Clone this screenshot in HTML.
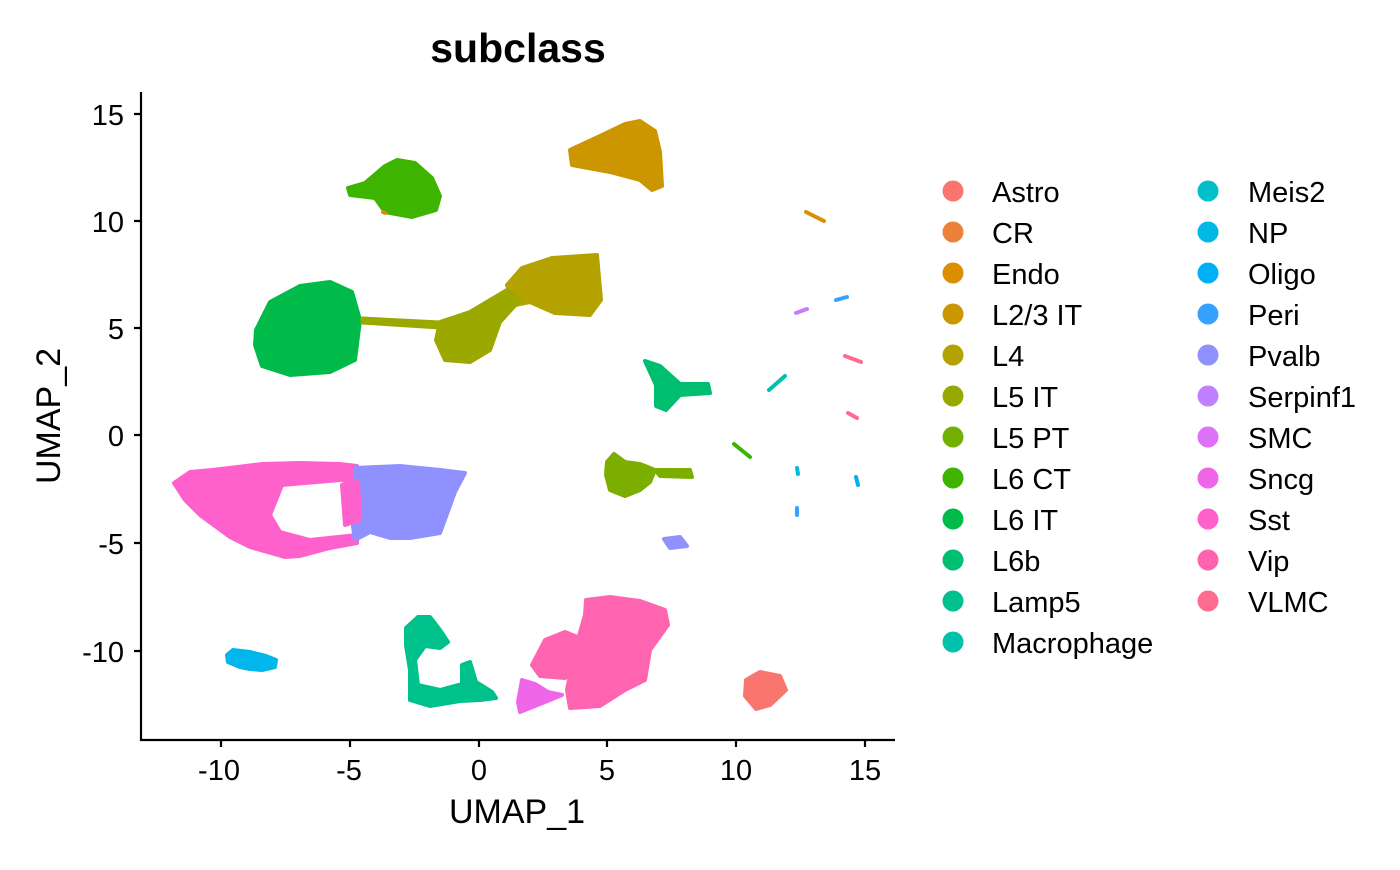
<!DOCTYPE html>
<html><head><meta charset="utf-8"><style>
body{margin:0;background:#fff}
svg text{font-family:"Liberation Sans",sans-serif}
</style></head><body>
<svg width="1400" height="865" viewBox="0 0 1400 865" xmlns="http://www.w3.org/2000/svg">
<rect width="1400" height="865" fill="#fff"/>
<text x="518" y="62" font-size="41" font-weight="bold" text-anchor="middle">subclass</text>
<g stroke-linejoin="round" stroke-width="4">
<path fill="#FF61CC" stroke="#FF61CC" fill-rule="evenodd" d="M174,483 L190,472 L212,470 L262,464 L300,463 L340,464 L357,466 L357,543 L330,548 L300,556 L285,557 L250,547 L230,537 L200,515 L185,500 Z M282,485 L340,480 L357,482 L357,535 L310,540 L280,532 L270,515 Z"/>
<path fill="#8F91FF" stroke="#8F91FF" d="M355,468 L400,466 L440,470 L465,473 L455,492 L440,533 L410,538 L390,538 L370,532 L355,540 L352,520 L362,505 L355,490 Z"/>
<path fill="#FF61CC" stroke="#FF61CC" d="M342,485 L358,482 L360,520 L345,525 Z"/>
<path fill="#8F91FF" stroke="#8F91FF" d="M664,539 L680,537 L687,546 L670,548 Z"/>
<path fill="#00C08B" stroke="#00C08B" d="M406,628 L418,617 L430,617 L440,630 L448,642 L440,648 L425,646 L415,660 L418,685 L440,690 L462,684 L462,665 L470,662 L476,682 L492,692 L496,698 L480,700 L460,701 L430,706 L410,700 L410,670 L406,645 Z"/>
<path fill="#F066E8" stroke="#F066E8" d="M518,702 L522,680 L535,684 L548,692 L562,695 L545,702 L520,712 Z"/>
<path fill="#FF64B0" stroke="#FF64B0" d="M586,600 L610,597 L640,601 L665,610 L668,625 L650,650 L645,680 L625,690 L600,706 L570,708 L567,690 L575,650 L585,615 Z M532,665 L545,640 L565,632 L585,640 L585,665 L565,678 L540,676 Z"/>
<path fill="#00B6EB" stroke="#00B6EB" d="M227,655 L233,650 L250,652 L266,656 L276,660 L275,667 L262,670 L250,669 L240,667 L228,662 Z"/>
<path fill="#7CAE00" stroke="#7CAE00" d="M607,462 L614,454 L625,462 L640,464 L655,470 L650,482 L640,490 L625,496 L610,490 L606,475 Z M655,470 L690,470 L692,477 L660,476 Z"/>
<path fill="#CC9600" stroke="#CC9600" d="M570,150 L598,137 L625,124 L640,121 L655,131 L660,152 L662,186 L652,190 L640,180 L610,172 L572,165 Z"/>
<path fill="#3DB400" stroke="#3DB400" d="M348,188 L365,183 L385,166 L397,160 L415,163 L432,178 L440,196 L436,210 L412,217 L385,212 L375,198 L350,195 Z"/>
<path fill="#00BA4A" stroke="#00BA4A" d="M256,330 L270,302 L300,286 L330,282 L352,292 L360,320 L355,360 L330,372 L290,375 L262,366 L255,345 Z"/>
<path fill="#B3A200" stroke="#B3A200" d="M507,285 L522,268 L552,258 L597,255 L601,300 L590,315 L555,313 L530,302 L515,305 Z"/>
<path fill="#9AA800" stroke="#9AA800" d="M440,322 L470,312 L507,290 L520,300 L500,322 L490,350 L470,362 L445,360 L436,340 Z"/>
<path fill="#9AA800" stroke="#9AA800" stroke-width="3" d="M362,318 L440,322 L440,328 L362,323 Z"/>
<path fill="#00BE70" stroke="#00BE70" d="M645,361 L660,366 L680,384 L708,384 L710,393 L680,395 L666,410 L656,406 L656,385 Z"/>
<path fill="#F8766D" stroke="#F8766D" d="M746,680 L760,672 L780,676 L786,690 L770,705 L756,709 L745,696 Z"/>
</g>
<g stroke-width="4" stroke-linecap="round">
<line x1="845" y1="356" x2="861" y2="362" stroke="#FF6C90"/>
<line x1="848" y1="413" x2="857" y2="418" stroke="#FF6C90"/>
<line x1="806" y1="212" x2="824" y2="221" stroke="#D89000"/>
<line x1="796" y1="313" x2="807" y2="309" stroke="#C77CFF"/>
<line x1="836" y1="300" x2="847" y2="297" stroke="#35A2FF"/>
<line x1="769" y1="390" x2="785" y2="376" stroke="#00C0AF"/>
<line x1="734" y1="444" x2="750" y2="457" stroke="#39B600"/>
<line x1="797" y1="468" x2="798" y2="474" stroke="#00BCD8"/>
<line x1="856" y1="477" x2="858" y2="485" stroke="#00B0F6"/>
<line x1="797" y1="508" x2="797" y2="515" stroke="#35A2FF"/>
<line x1="383" y1="212" x2="385" y2="213" stroke="#D89000"/>
</g>
<g stroke="#000" stroke-width="2.2" fill="none">
<line x1="141" y1="92" x2="141" y2="741"/>
<line x1="140" y1="740" x2="895" y2="740"/>
<path d="M134,114H141M134,221H141M134,328H141M134,435H141M134,543H141M134,651H141"/>
<path d="M221,740V747M350,740V747M479,740V747M607,740V747M736,740V747M865,740V747"/>
</g>
<g font-size="29" fill="#000">
<g text-anchor="end">
<text x="124" y="125">15</text><text x="124" y="232">10</text><text x="124" y="339">5</text>
<text x="124" y="446">0</text><text x="124" y="554">-5</text><text x="124" y="662">-10</text>
</g>
<g text-anchor="middle">
<text x="219" y="780">-10</text><text x="349" y="780">-5</text><text x="479" y="780">0</text>
<text x="607" y="780">5</text><text x="736" y="780">10</text><text x="865" y="780">15</text>
</g>
</g>
<text x="517" y="823" font-size="34" text-anchor="middle">UMAP_1</text>
<text x="0" y="0" font-size="34" text-anchor="middle" transform="translate(60,416) rotate(-90)">UMAP_2</text>
<g font-size="29">
<circle cx="953" cy="191" r="10.5" fill="#F8766D"/><text x="992" y="202">Astro</text>
<circle cx="953" cy="232" r="10.5" fill="#EC8239"/><text x="992" y="243">CR</text>
<circle cx="953" cy="273" r="10.5" fill="#DB8E00"/><text x="992" y="284">Endo</text>
<circle cx="953" cy="314" r="10.5" fill="#C99800"/><text x="992" y="325">L2/3 IT</text>
<circle cx="953" cy="355" r="10.5" fill="#B3A200"/><text x="992" y="366">L4</text>
<circle cx="953" cy="396" r="10.5" fill="#97A900"/><text x="992" y="407">L5 IT</text>
<circle cx="953" cy="437" r="10.5" fill="#71B000"/><text x="992" y="448">L5 PT</text>
<circle cx="953" cy="478" r="10.5" fill="#3DB400"/><text x="992" y="489">L6 CT</text>
<circle cx="953" cy="519" r="10.5" fill="#00BA4A"/><text x="992" y="530">L6 IT</text>
<circle cx="953" cy="560" r="10.5" fill="#00BE70"/><text x="992" y="571">L6b</text>
<circle cx="953" cy="601" r="10.5" fill="#00C08D"/><text x="992" y="612">Lamp5</text>
<circle cx="953" cy="642" r="10.5" fill="#00C1A9"/><text x="992" y="653">Macrophage</text>
<circle cx="1208" cy="191" r="10.5" fill="#00BFC9"/><text x="1248" y="202">Meis2</text>
<circle cx="1208" cy="232" r="10.5" fill="#00B8E3"/><text x="1248" y="243">NP</text>
<circle cx="1208" cy="273" r="10.5" fill="#00B0F6"/><text x="1248" y="284">Oligo</text>
<circle cx="1208" cy="314" r="10.5" fill="#35A2FF"/><text x="1248" y="325">Peri</text>
<circle cx="1208" cy="355" r="10.5" fill="#8F91FF"/><text x="1248" y="366">Pvalb</text>
<circle cx="1208" cy="396" r="10.5" fill="#BE80FF"/><text x="1248" y="407">Serpinf1</text>
<circle cx="1208" cy="437" r="10.5" fill="#DF70F8"/><text x="1248" y="448">SMC</text>
<circle cx="1208" cy="478" r="10.5" fill="#F066E8"/><text x="1248" y="489">Sncg</text>
<circle cx="1208" cy="519" r="10.5" fill="#FF61CC"/><text x="1248" y="530">Sst</text>
<circle cx="1208" cy="560" r="10.5" fill="#FF64B0"/><text x="1248" y="571">Vip</text>
<circle cx="1208" cy="601" r="10.5" fill="#FF6C90"/><text x="1248" y="612">VLMC</text>
</g>
</svg>
</body></html>
